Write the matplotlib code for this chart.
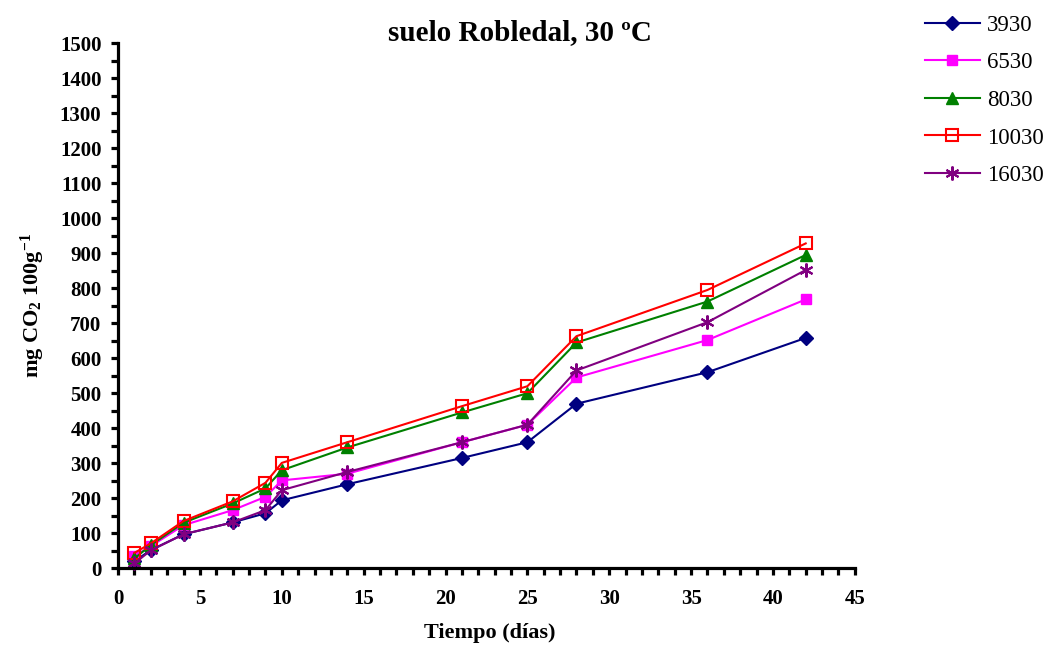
import numpy as np
import matplotlib.pyplot as plt
from matplotlib.ticker import MultipleLocator

plt.rcParams['font.family'] = ['Liberation Serif', 'DejaVu Serif']
plt.rcParams['mathtext.default'] = 'regular'

# Datos: tiempo (días) y CO2 acumulado para cada dosis
dias = [1, 2, 4, 7, 9, 10, 14, 21, 25, 28, 36, 42]
s3930 = [20, 52, 97, 131, 157, 194, 240, 315, 360, 470, 560, 658]
s6530 = [35, 63, 123, 166, 204, 251, 270, 360, 410, 545, 652, 768]
s8030 = [28, 66, 130, 185, 228, 280, 345, 445, 500, 645, 762, 895]
s10030 = [44, 71, 135, 191, 244, 301, 360, 463, 520, 663, 795, 928]
s16030 = [14, 51, 97, 131, 166, 223, 275, 360, 410, 565, 703, 852]
etiquetas = ['3930', '6530', '8030', '10030', '16030']

series = [s3930, s6530, s8030, s10030, s16030]
estilos = [
    dict(color='#000080', marker='D', ms=7, mfc='#000080'),
    dict(color='#FF00FF', marker='s', ms=7.5, mfc='#FF00FF'),
    dict(color='#008000', marker='^', ms=9, mfc='#008000'),
    dict(color='#FF0000', marker='s', ms=8, mfc='none', mew=1.5),
    dict(color='#800080', marker=(6, 2, 0), ms=10, mew=1.5),
]

fig = plt.figure(figsize=(10.45, 6.45), dpi=100)
ax = fig.add_axes([0.113, 0.119, 0.705, 0.814])

lineas = []
for s, est, lab in zip(series, estilos, etiquetas):
    l, = ax.plot(dias, s, lw=1.5, label=lab, clip_on=False, **est)
    lineas.append(l)

ax.set_xlim(0, 45)
ax.set_ylim(0, 1500)
ax.xaxis.set_major_locator(MultipleLocator(5))
ax.xaxis.set_minor_locator(MultipleLocator(1))
ax.yaxis.set_major_locator(MultipleLocator(100))
ax.yaxis.set_minor_locator(MultipleLocator(50))

for lado in ['top', 'right']:
    ax.spines[lado].set_visible(False)
for lado in ['left', 'bottom']:
    ax.spines[lado].set_linewidth(2.3)

ax.tick_params(which='both', direction='out', width=2.3, length=5, labelsize=15)
ax.tick_params(axis='x', which='major', pad=10)
ax.tick_params(axis='y', which='major', pad=7)
for t in ax.get_xticklabels() + ax.get_yticklabels():
    t.set_fontweight('bold')

ax.set_xlabel('Tiempo (días)', fontsize=16, fontweight='bold')
ax.xaxis.set_label_coords(0.505, -0.124)
ax.xaxis.label.set_va('center')
ax.set_ylabel('mg CO$_2$ 100g$^{-1}$', fontsize=16, fontweight='bold')
ax.yaxis.set_label_coords(-0.115, 0.50)
ax.yaxis.label.set_va('center')
fig.text(0.4976, 0.949, 'suelo Robledal, 30 ºC', ha='center', va='center',
         fontsize=21, fontweight='bold')

fig.legend(handles=lineas, loc='upper left', bbox_to_anchor=(0.885, 0.977),
           frameon=False, fontsize=16.5, labelspacing=0.72, handlelength=2.4,
           handletextpad=0.3, borderpad=0, borderaxespad=0)

fig.savefig('out.png', dpi=100)
